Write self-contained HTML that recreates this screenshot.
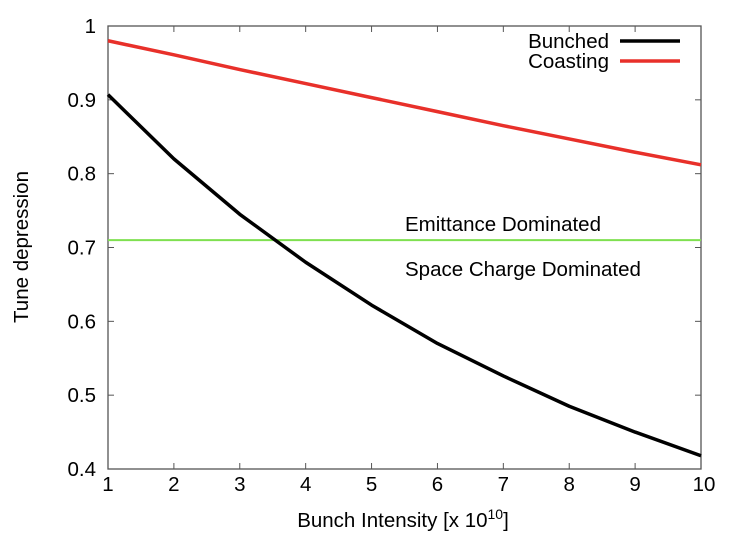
<!DOCTYPE html>
<html><head><meta charset="utf-8"><style>
body{margin:0;background:#fff}
svg{font-family:"Liberation Sans",sans-serif;font-size:20.5px}
</style></head><body>
<svg width="730" height="552">
<g id="axes"></g><g id="marks"></g>
</svg>
<script>
const xs=[1,2,3,4,5,6,7,8,9,10];
const bunched=[0.907,0.82,0.745,0.68,0.622,0.57,0.526,0.485,0.45,0.418];
const coasting=[0.98,0.961,0.941,0.922,0.903,0.884,0.865,0.847,0.829,0.812];
const threshold=[0.71];
const xTicks=[1,2,3,4,5,6,7,8,9,10];
const yTicks=[0.4,0.5,0.6,0.7,0.8,0.9,1];
const yTickLabels=["0.4","0.5","0.6","0.7","0.8","0.9","1"];
const L=108,R=701,T=26,B=469;
const X=v=>L+(v-1)/9*(R-L);
const Y=v=>B-(v-0.4)/0.6*(B-T);
const NS="http://www.w3.org/2000/svg";
const ax=document.getElementById('axes'),mk=document.getElementById('marks');
function el(p,t,a,txt){const e=document.createElementNS(NS,t);for(const k in a)e.setAttribute(k,a[k]);if(txt!==undefined)e.textContent=txt;p.appendChild(e);return e;}
let f=el(ax,'rect',{x:L,y:T,width:R-L,height:B-T,fill:'none',stroke:'#555','stroke-width':1.3});


xTicks.forEach(v=>{
 el(ax,'line',{x1:X(v),x2:X(v),y1:B,y2:B-6,stroke:'#555'});
 el(ax,'line',{x1:X(v),x2:X(v),y1:T,y2:T+6,stroke:'#555'});
 let t=el(ax,'text',{x:X(v)+(v==10?3:0),y:B+22,'text-anchor':'middle'},String(v));
 
 
});
yTicks.forEach((v,i)=>{
 el(ax,'line',{x1:L,x2:L+6,y1:Y(v),y2:Y(v),stroke:'#555'});
 el(ax,'line',{x1:R,x2:R-6,y1:Y(v),y2:Y(v),stroke:'#555'});
 let t=el(ax,'text',{x:L-12,y:Y(v)+7,'text-anchor':'end'},yTickLabels[i]);
 
 
});
let xt=el(ax,'text',{x:403,y:527,'text-anchor':'middle'});
xt.innerHTML='Bunch Intensity [x 10<tspan dy="-8" font-size="14">10</tspan><tspan dy="8">]</tspan>';


let yt=el(ax,'text',{x:0,y:0,transform:'translate(28,247) rotate(-90)','text-anchor':'middle'},'Tune depression');


let g=el(mk,'line',{x1:L,x2:R,y1:Y(threshold[0]),y2:Y(threshold[0]),stroke:'#7fe050','stroke-width':2});


let e1=el(mk,'text',{x:405,y:231},'Emittance Dominated');


let e2=el(mk,'text',{x:405,y:276},'Space Charge Dominated');


function path(arr){return arr.map((v,i)=>(i?'L':'M')+X(xs[i])+' '+Y(v)).join(' ');}
let pc=el(mk,'path',{d:path(coasting),fill:'none',stroke:'#e8302a','stroke-width':3.5});


let pb=el(mk,'path',{d:path(bunched),fill:'none',stroke:'#000','stroke-width':3.5,'stroke-linejoin':'round'});


let l1=el(mk,'text',{x:609,y:48,'text-anchor':'end'},'Bunched');


let k1=el(mk,'line',{x1:620,x2:680,y1:41,y2:41,stroke:'#000','stroke-width':3.5});


let l2=el(mk,'text',{x:609,y:68,'text-anchor':'end'},'Coasting');


let k2=el(mk,'line',{x1:620,x2:680,y1:61,y2:61,stroke:'#e8302a','stroke-width':3.5});


</script>
</body></html>
